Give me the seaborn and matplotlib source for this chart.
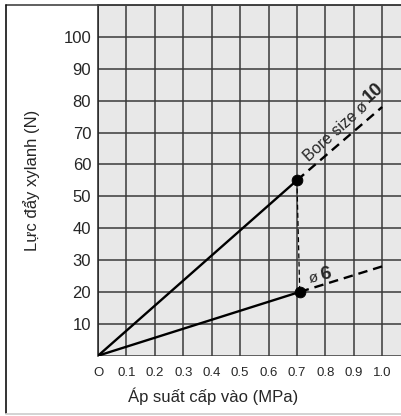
import matplotlib
matplotlib.use("Agg")
import matplotlib.pyplot as plt
from matplotlib.lines import Line2D
import seaborn as sns

# dữ liệu
bore10_solid_p = [0, 0.70]
bore10_solid_f = [0, 55]
bore10_dash_p = [0.70, 1.0]
bore10_dash_f = [55, 78]

bore6_solid_p = [0, 0.71]
bore6_solid_f = [0, 20]
bore6_dash_p = [0.71, 1.0]
bore6_dash_f = [20, 28]

x_ticks = [0, 0.1, 0.2, 0.3, 0.4, 0.5, 0.6, 0.7, 0.8, 0.9, 1.0]
x_ticklabels = ["O", "0.1", "0.2", "0.3", "0.4", "0.5", "0.6", "0.7", "0.8", "0.9", "1.0"]
y_ticks = [10, 20, 30, 40, 50, 60, 70, 80, 90, 100]

sns.set_style("white")
plt.rcParams['font.family'] = ['Liberation Sans', 'DejaVu Sans']

fig = plt.figure(figsize=(4.02, 4.16), dpi=100)
ax = fig.add_axes([0.244, 0.145, 0.756, 0.843])
ax.set_facecolor("#e8e8e8")

# lưới
for gx in [0, 0.1, 0.2, 0.3, 0.4, 0.5, 0.6, 0.7, 0.8, 0.9, 1.0, 1.1]:
    ax.axvline(gx, color="#3a3a3a", lw=1.1, zorder=1)
for gy in [0, 10, 20, 30, 40, 50, 60, 70, 80, 90, 100, 110]:
    ax.axhline(gy, color="#3a3a3a", lw=1.1, zorder=1)

dash = (0, (4, 2.5))
sns.lineplot(x=bore10_solid_p, y=bore10_solid_f, ax=ax, color="black", lw=1.7, zorder=3)
sns.lineplot(x=bore6_solid_p, y=bore6_solid_f, ax=ax, color="black", lw=1.7, zorder=3)
sns.lineplot(x=bore10_dash_p, y=bore10_dash_f, ax=ax, color="black", lw=1.7,
             linestyle=dash, zorder=3)
sns.lineplot(x=bore6_dash_p, y=bore6_dash_f, ax=ax, color="black", lw=1.7,
             linestyle=dash, zorder=3)
# đường nối thẳng đứng giữa hai điểm
sns.lineplot(x=[bore10_solid_p[1], bore6_solid_p[1]], y=[bore10_solid_f[1], bore6_solid_f[1]],
             ax=ax, color="black", lw=0.9, linestyle=dash, zorder=3)
sns.scatterplot(x=[bore10_solid_p[1], bore6_solid_p[1]], y=[bore10_solid_f[1], bore6_solid_f[1]],
                ax=ax, color="black", s=60, edgecolor="black", zorder=4)

ax.text(0.748, 60.0, "Bore size ø", rotation=42, fontsize=11.5, ha="left", va="bottom",
        rotation_mode="anchor", zorder=5)
ax.text(0.963, 78.3, "10", rotation=42, fontsize=13.5, fontweight="bold", ha="left",
        va="bottom", rotation_mode="anchor", zorder=5)
ax.text(0.748, 21.8, "ø", rotation=12, fontsize=11, ha="left", va="bottom",
        rotation_mode="anchor", zorder=5)
ax.text(0.788, 22.6, "6", rotation=12, fontsize=14, fontweight="bold", ha="left",
        va="bottom", rotation_mode="anchor", zorder=5)

ax.set_xlim(0, 1.07)
ax.set_ylim(0, 110)
ax.set_xticks(x_ticks)
ax.set_xticklabels(x_ticklabels, fontsize=9.5)
ax.set_yticks(y_ticks)
ax.set_yticklabels([str(v) for v in y_ticks], fontsize=12)
ax.tick_params(axis="y", length=0, pad=5)
ax.tick_params(axis="x", length=0, pad=8)
ax.set_ylabel("Lực đẩy xylanh (N)", fontsize=12)
ax.set_xlabel("Áp suất cấp vào (MPa)", fontsize=12)
ax.yaxis.set_label_coords(-0.19, 0.5)
ax.xaxis.set_label_coords(0.377, -0.09)

for s in ["top", "left"]:
    ax.spines[s].set_color("#222222")
    ax.spines[s].set_linewidth(1.1)
ax.spines["right"].set_visible(False)
ax.spines["bottom"].set_visible(False)

# khung ngoài của hình
fig.add_artist(Line2D([6 / 402, 1], [1 - 5 / 416, 1 - 5 / 416], color="#444444", lw=1.2))
fig.add_artist(Line2D([6 / 402, 6 / 402], [1 - 5 / 416, 1 - 413 / 416], color="#111111", lw=1.2))
fig.add_artist(Line2D([6 / 402, 1], [1 - 414 / 416, 1 - 414 / 416], color="#cccccc", lw=1.2))

fig.savefig("out.png", dpi=100)
